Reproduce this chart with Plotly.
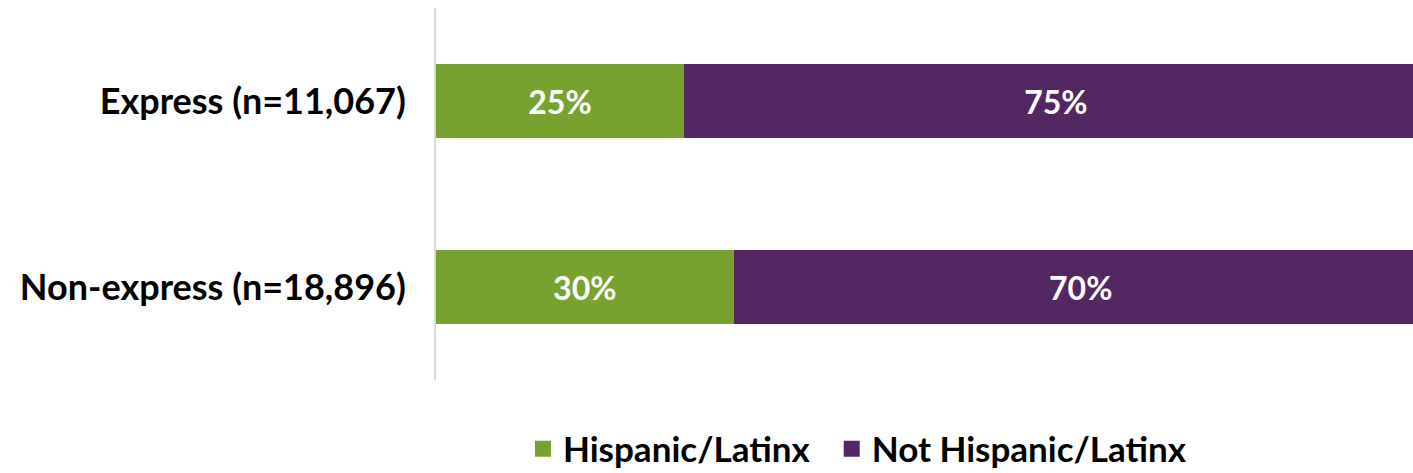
import plotly.graph_objects as go

categories = ["Express (n=11,067)", "Non-express (n=18,896)"]
hispanic = [25, 30]
not_hispanic = [75, 70]
series_names = ["Hispanic/Latinx\u00a0\u00a0", "Not Hispanic/Latinx"]
colors = ["#78A22F", "#532761"]

FONT = "Lato, 'Open Sans', sans-serif"
W, H = 1413, 473

fig = go.Figure()
for name, vals, col in zip(series_names, [hispanic, not_hispanic], colors):
    fig.add_trace(go.Bar(
        y=categories, x=vals, name=name.strip(), orientation="h",
        marker=dict(color=col, line=dict(width=0)),
        text=[f"{v}%" for v in vals], textposition="inside",
        insidetextanchor="middle", showlegend=False,
        textfont=dict(color="white", size=32, family=FONT, weight="bold"),
    ))
# legend-only entries with larger square swatches
for name, col in zip(series_names, colors):
    fig.add_trace(go.Scatter(
        x=[None], y=[None], mode="markers", name=name,
        marker=dict(symbol="square", size=22, color=col),
        showlegend=True,
    ))

fig.update_layout(
    barmode="stack", bargap=0.6,
    width=W, height=H,
    margin=dict(l=436, r=0, t=8, b=93),
    plot_bgcolor="white", paper_bgcolor="white",
    font=dict(family=FONT, color="black"),
    showlegend=True,
    legend=dict(orientation="h", xref="container", yref="container",
                x=523 / W, xanchor="left",
                y=1 - 449 / H, yanchor="middle", traceorder="normal",
                font=dict(size=35, family=FONT, weight="bold", color="black"),
                itemwidth=30, tracegroupgap=0),
)
fig.update_xaxes(range=[0, 98.5], visible=False, showgrid=False)
fig.update_yaxes(type="category", categoryorder="array", categoryarray=categories,
                 range=[1.5, -0.5],
                 showline=True, linecolor="#d9d9d9", linewidth=2,
                 ticks="", ticklabelstandoff=21, showgrid=False,
                 tickfont=dict(size=36, family=FONT, weight="bold", color="black"))

fig.write_html(
    "out.html",
    config={"displayModeBar": False},
    post_script="document.body.style.margin='0';document.body.style.overflow='hidden';",
)
